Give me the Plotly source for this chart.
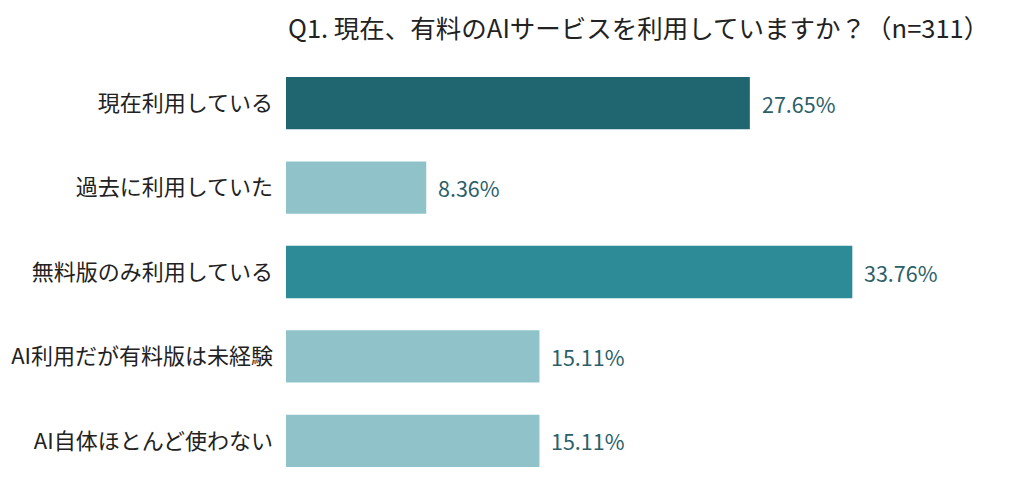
import plotly.graph_objects as go

categories = [
    "現在利用している",
    "過去に利用していた",
    "無料版のみ利用している",
    "AI利用だが有料版は未経験",
    "AI自体ほとんど使わない",
]
values = [27.65, 8.36, 33.76, 15.11, 15.11]
colors = ["#1f6670", "#8fc3c9", "#2d8a97", "#8fc3c9", "#8fc3c9"]
title_text = "Q1. 現在、有料のAIサービスを利用していますか？（n=311）"

FONT = "Noto Sans CJK JP"

fig = go.Figure(
    go.Bar(
        x=values,
        y=categories,
        orientation="h",
        marker=dict(color=colors, line=dict(width=0)),
        width=0.62,
        hoverinfo="skip",
    )
)

for cat, v in zip(categories, values):
    fig.add_annotation(
        x=v, y=cat, text=f"{v:.2f}%",
        xanchor="left", xshift=10, showarrow=False,
        font=dict(family=FONT, size=21.5, color="#2b6068"),
    )

# title as an annotation sitting above the plot area
fig.add_annotation(
    x=0, y=1, xref="paper", yref="paper",
    xanchor="left", yanchor="middle", xshift=0, yshift=35,
    text=title_text, showarrow=False,
    font=dict(family=FONT, size=25.5, color="#222222"),
)

# page body adds an 8px offset, margins compensate for it
fig.update_layout(
    width=1024,
    height=500,
    margin=dict(l=278, r=75, t=53, b=25),
    paper_bgcolor="white",
    plot_bgcolor="white",
    showlegend=False,
    font=dict(family=FONT),
)
fig.update_xaxes(range=[0, 40], visible=False)
fig.update_yaxes(
    autorange="reversed", automargin=False,
    showgrid=False, showline=False, zeroline=False, ticks="",
    ticklabelstandoff=12,
    tickfont=dict(family=FONT, size=22, color="#222222"),
)

fig.write_html("out.html")
